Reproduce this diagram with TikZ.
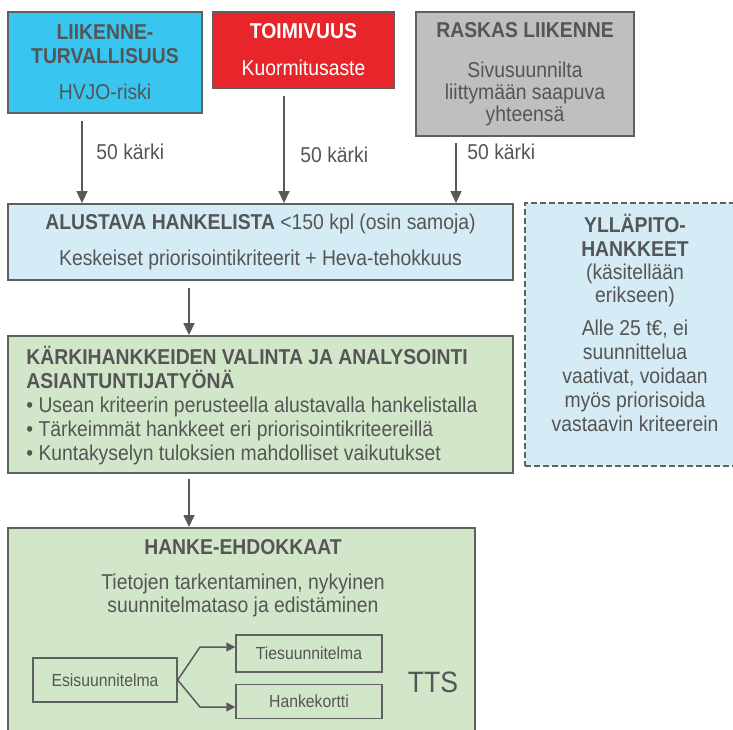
\documentclass[tikz,border=0pt]{standalone}
\usepackage{fontspec}
\setmainfont{Liberation Sans}[FakeStretch=0.9]
\usetikzlibrary{arrows.meta,positioning}

\definecolor{txtgray}{HTML}{555555}
\definecolor{bordergray}{HTML}{606060}
\definecolor{arrgray}{HTML}{595959}
\definecolor{ltcyan}{HTML}{38C5F0}
\definecolor{tred}{HTML}{E7252A}
\definecolor{rgray}{HTML}{BFBFBF}
\definecolor{paleblue}{HTML}{D5EBF5}
\definecolor{palegreen}{HTML}{D2E7C9}

\newcommand{\bigtxt}{\fontsize{21.5}{24}\selectfont}
\newcommand{\smalltxt}{\fontsize{17.5}{20}\selectfont}

\tikzset{every picture/.style={line width=0.75pt},
  box/.style={draw=bordergray, line width=1.8pt, inner sep=0pt, align=center, text=txtgray, font=\bigtxt},
  sbox/.style={draw=bordergray, line width=1.4pt, inner sep=0pt, minimum width=146pt, text=txtgray, font=\smalltxt},
  arr/.style={draw=arrgray, line width=1.6pt, -{Triangle[length=12pt,width=11pt]}},
  sarr/.style={draw=arrgray, line width=1.5pt, -{Triangle[length=9pt,width=9pt]}},
  lbl/.style={inner sep=0pt, text=txtgray, font=\bigtxt, anchor=west},
  txt/.style={inner sep=0pt, text=txtgray, font=\bigtxt, align=center}}

\begin{document}
\begin{tikzpicture}[x=1pt,y=1pt,yscale=-1,xscale=1]
\fill[white] (0,0) rectangle (733,729);
\useasboundingbox (0,0) rectangle (733,729);

%Top row
\node[box, fill=ltcyan, minimum width=194pt, minimum height=101pt] (lt) at (105,62.5) {\textbf{LIIKENNE-}\\\textbf{TURVALLISUUS}\\[12pt]HVJO-riski};
\node[box, fill=tred, text=white, minimum width=181pt, minimum height=76pt] (tv) at (303.5,50) {\textbf{TOIMIVUUS}\\[13pt]Kuormitusaste};
\node[box, fill=rgray, minimum width=218pt, minimum height=124pt] (rl) at (525,74) {\textbf{RASKAS LIIKENNE}\\[16pt]Sivusuunnilta\\[-2pt]liittymään saapuva\\[-2pt]yhteensä};

%Alustava hankelista
\node[box, fill=paleblue, minimum width=505pt, minimum height=76pt] (alist) at (260.5,242) {\textbf{ALUSTAVA HANKELISTA} <150 kpl (osin samoja)\\[12pt]Keskeiset priorisointikriteerit + Heva-tehokkuus};

%Yllapito (dashed)
\node[box, fill=paleblue, dash pattern=on 6pt off 3pt, line width=1.5pt, minimum width=248pt, minimum height=263pt] (yl) at (649,334.5) {};
\node[txt] (yltxt) at (635,322.5) {\textbf{YLLÄPITO-}\\\textbf{HANKKEET}\\[-1pt](käsitellään\\[-1pt]erikseen)\\[9pt]Alle 25 t€, ei\\suunnittelua\\vaativat, voidaan\\myös priorisoida\\vastaavin kriteerein};

%Karkihankkeet
\node[box, fill=palegreen, minimum width=505pt, minimum height=137pt] (kv) at (260.5,404.5) {};
\node[txt, align=left, anchor=west] (kvtxt) at (26,405.5) {\textbf{KÄRKIHANKKEIDEN VALINTA JA ANALYSOINTI}\\\textbf{ASIANTUNTIJATYÖNÄ}\\• Usean kriteerin perusteella alustavalla hankelistalla\\• Tärkeimmät hankkeet eri priorisointikriteereillä\\• Kuntakyselyn tuloksien mahdolliset vaikutukset};

%Hanke-ehdokkaat
\node[box, fill=palegreen, minimum width=467pt, minimum height=250pt, anchor=north] (hk) at (241.5,527) {};
\node[txt] (hktitle) at (243,547) {\textbf{HANKE-EHDOKKAAT}};
\node[txt] (hkdesc) at (243,595.5) {Tietojen tarkentaminen, nykyinen\\[-1pt]suunnitelmataso ja edistäminen};
\node[sbox, minimum width=144pt, minimum height=44pt] (esi) at (105,680) {Esisuunnitelma};
\node[sbox, minimum height=37pt] (tie) at (309,653.5) {Tiesuunnitelma};
\node[sbox, minimum height=34pt, below=11pt of tie] (hkort) {Hankekortti};
\node[txt, font=\fontsize{29.5}{32}\selectfont] (tts) at (433,682) {TTS};

%Arrows
\draw[arr] (lt.south) ++(-23,7) coordinate (s1) -- (s1 |- alist.north);
\draw[arr] (tv.south) ++(-19.5,7) coordinate (s2) -- (s2 |- alist.north);
\draw[arr] (rl.south) ++(-69,6) coordinate (s3) -- (s3 |- alist.north);
\draw[arr] (alist.south) ++(-71.5,7) coordinate (s4) -- (s4 |- kv.north);
\draw[arr] (kv.south) ++(-71.5,5) coordinate (s5) -- (s5 |- hk.north);

% Text Node
\node[lbl] (k1) at (96,152) {50 kärki};
\node[lbl] (k2) at (300,155) {50 kärki};
\node[lbl] (k3) at (467,152) {50 kärki};

\coordinate (j1) at (200,647);
\coordinate (j2) at (200,707);
\draw[sarr] (esi.east) -- (j1) -- (j1 -| tie.west);
\draw[sarr] (esi.east) -- (j2) -- (j2 -| hkort.west);

\end{tikzpicture}
\end{document}
